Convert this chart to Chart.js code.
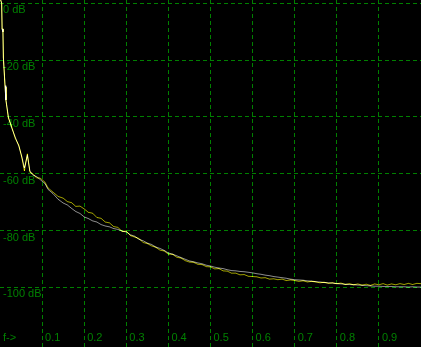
<!DOCTYPE html>
<html>
<head>
<meta charset="utf-8">
<script src="https://cdn.jsdelivr.net/npm/chart.js@4/dist/chart.umd.min.js"></script>
<style>
    html, body { margin: 0; padding: 0; background: #000; }
    #wrap { width: 421px; height: 347px; position: relative; }
</style>
</head>
<body>
<div id="wrap"><canvas id="spectrum"></canvas></div>
<script>
// frequency axis (normalised), shared by both traces
const freq = [
    0, 0.004, 0.005, 0.007, 0.008, 0.012, 0.014, 0.02, 0.028, 0.036, 0.045, 0.052,
    0.058, 0.065, 0.071, 0.078, 0.087, 0.095, 0.107, 0.114, 0.126, 0.138, 0.15,
    0.16, 0.17, 0.18, 0.19, 0.20, 0.21, 0.22, 0.23, 0.24, 0.25, 0.26, 0.27, 0.28, 0.29,
    0.30, 0.31, 0.32, 0.33, 0.34, 0.35, 0.36, 0.37, 0.38, 0.39, 0.40, 0.41, 0.42, 0.43,
    0.44, 0.45, 0.46, 0.47, 0.48, 0.49, 0.50, 0.51, 0.52, 0.53, 0.54, 0.55, 0.56, 0.57,
    0.58, 0.59, 0.60, 0.61, 0.62, 0.63, 0.64, 0.65, 0.66, 0.67, 0.68, 0.69, 0.70, 0.71,
    0.72, 0.73, 0.74, 0.75, 0.76, 0.77, 0.78, 0.79, 0.80, 0.81, 0.82, 0.83, 0.84, 0.85,
    0.86, 0.87, 0.88, 0.89, 0.90, 0.91, 0.92, 0.93, 0.94, 0.95, 0.96, 0.97, 0.98, 0.99, 1.00
];

// gray trace (dB)
const levelGray = [
    2, 0, -9, -10, -19, -29, -34, -40, -44, -47, -50.5, -54,
    -58, -53.5, -59, -60.5, -61, -62, -63.5, -65.5, -67, -69, -70.3,
    -71.0, -72.2, -73.3, -74.0, -75.2, -75.8, -76.6, -77.0, -77.9, -78.4, -78.7, -79.3, -79.6, -80.2,
    -80.5, -81.5, -82.0, -83.1, -83.6, -84.4, -84.9, -85.8, -86.3, -87.0, -87.9, -88.3, -88.9, -89.5,
    -90.1, -90.7, -91.0, -91.4, -91.7, -92.2, -92.5, -92.9, -93.2, -93.4, -93.8, -94.1, -94.2, -94.4,
    -94.5, -94.7, -94.9, -95.2, -95.4, -95.7, -95.9, -96.2, -96.4, -96.6, -96.8, -97.1, -97.3, -97.4,
    -97.5, -97.7, -97.8, -98.0, -98.1, -98.3, -98.4, -98.5, -98.7, -98.8, -98.9, -99.0, -99.1, -99.2,
    -99.3, -99.4, -99.5, -99.6, -99.6, -99.7, -99.7, -99.7, -99.8, -99.8, -99.8, -99.9, -99.8, -99.9, -99.9
];

// olive trace (dB)
const levelOlive = [
    2, 0, -9, -10, -19, -29.5, -34, -40.5, -43.5, -47.5, -50, -54.5,
    -59, -53, -59.5, -60, -61.5, -61.5, -63, -65, -66.5, -68, -68.6,
    -69.8, -70.2, -71.5, -71.4, -72.4, -73.6, -73.9, -75.4, -75.7, -77.0, -77.3, -78.6, -78.9, -80.3,
    -80.2, -81.8, -82.3, -82.8, -84.2, -84.6, -85.4, -85.9, -86.9, -87.2, -88.3, -88.4, -89.4, -89.7,
    -90.6, -91.1, -91.2, -91.9, -92.0, -92.7, -92.8, -93.5, -93.4, -94.2, -94.3, -95.0, -95.0, -95.6,
    -95.5, -96.1, -96.2, -96.3, -96.7, -96.6, -97.1, -97.0, -97.3, -97.1, -97.6, -97.4, -97.6, -97.9,
    -97.7, -98.1, -97.9, -98.1, -98.4, -98.2, -98.6, -98.4, -98.7, -98.5, -99.0, -98.7, -99.1, -98.8,
    -99.2, -98.9, -99.3, -98.8, -99.1, -98.7, -99.2, -98.8, -99.1, -98.7, -99.0, -98.6, -99.0, -98.6, -98.7
];

// tick positions and labels
const xTicks = [0, 0.1, 0.2, 0.3, 0.4, 0.5, 0.6, 0.7, 0.8, 0.9];
const xTickLabels = ['f->', '0.1', '0.2', '0.3', '0.4', '0.5', '0.6', '0.7', '0.8', '0.9'];
const yTicks = [0, -20, -40, -60, -80, -100];

const GREEN = '#008000';

// overlapping traces add up to yellow, like the scope display
const additive = {
    id: 'additive',
    beforeDatasetsDraw(chart) {
        chart.ctx.save();
        chart.ctx.globalCompositeOperation = 'lighter';
    },
    afterDatasetsDraw(chart) {
        chart.ctx.restore();
    }
};

const toPoints = values => freq.map((f, i) => ({ x: f, y: values[i] }));

// axes sit inside the plot, so they take no room at all
const noRoom = scale => {
    if (scale.isHorizontal()) scale.height = 0; else scale.width = 0;
    scale.paddingTop = 0;
    scale.paddingBottom = 0;
    scale.paddingLeft = 0;
    scale.paddingRight = 0;
};

new Chart(document.getElementById('spectrum').getContext('2d'), {
    type: 'line',
    data: {
        datasets: [
            {
                data: toPoints(levelGray),
                borderColor: '#8c8c8c',
                borderWidth: 1,
                pointRadius: 0,
                tension: 0
            },
            {
                data: toPoints(levelOlive),
                borderColor: '#a0a000',
                borderWidth: 1,
                pointRadius: 0,
                tension: 0
            }
        ]
    },
    options: {
        responsive: true,
        maintainAspectRatio: false,
        animation: false,
        layout: { padding: 0 },
        plugins: {
            legend: { display: false },
            tooltip: { enabled: false }
        },
        scales: {
            x: {
                type: 'linear',
                min: 0,
                max: 1,
                afterBuildTicks: scale => { scale.ticks = xTicks.map(v => ({ value: v })); },
                afterFit: noRoom,
                grid: {
                    color: ctx => (ctx.index === 0 ? 'transparent' : GREEN),
                    lineWidth: 1,
                    drawTicks: false
                },
                border: { display: false, dash: [4, 3] },
                ticks: {
                    mirror: true,
                    align: 'start',
                    labelOffset: 3,
                    padding: 2,
                    autoSkip: false,
                    maxRotation: 0,
                    color: GREEN,
                    font: { family: 'Liberation Sans', size: 11 },
                    callback: (value, index) => xTickLabels[index]
                }
            },
            y: {
                type: 'linear',
                min: -121,
                max: 1.16,
                afterBuildTicks: scale => { scale.ticks = yTicks.map(v => ({ value: v })); },
                afterFit: noRoom,
                grid: {
                    color: GREEN,
                    lineWidth: 1,
                    drawTicks: false
                },
                border: { display: false, dash: [4, 3] },
                ticks: {
                    mirror: true,
                    labelOffset: 7,
                    padding: 3,
                    color: GREEN,
                    font: { family: 'Liberation Sans', size: 11 },
                    callback: value => value + ' dB'
                }
            }
        }
    },
    plugins: [additive]
});
</script>
</body>
</html>
